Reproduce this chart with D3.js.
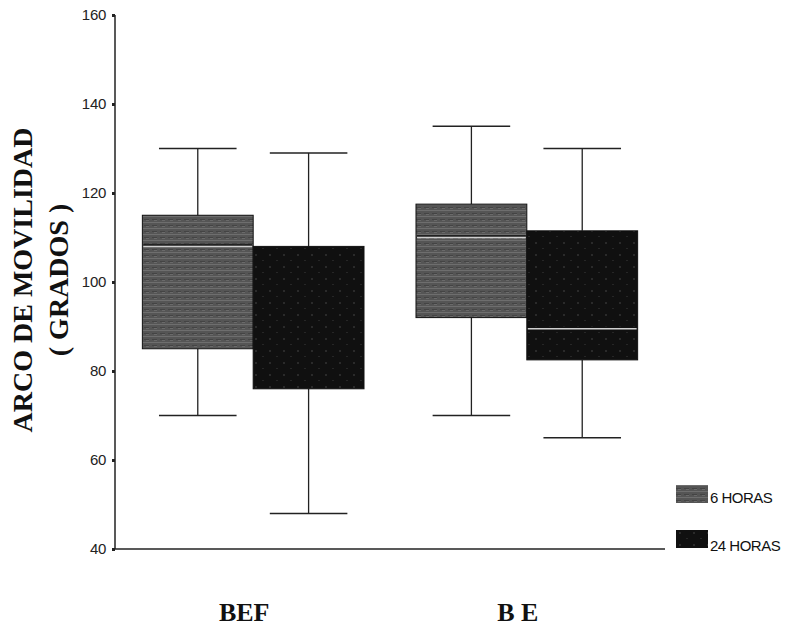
<!DOCTYPE html>
<html>
<head>
<meta charset="utf-8">
<script src="https://cdn.jsdelivr.net/npm/d3@7"></script>
<style>
  html, body { margin: 0; padding: 0; background: #fff; }
  svg { display: block; }
</style>
</head>
<body>
<svg id="chart" width="795" height="627"></svg>
<script>
// ---- data ----
const categories = ["BEF", "BE"];
const categoryLabels = ["BEF", "B E"];
const seriesNames = ["6 HORAS", "24 HORAS"];
// per category, per series: [min, q1, median, q3, max]
const bef6h  = [70, 85, 108, 115, 130];
const bef24h = [48, 76, 108, 108, 129];
const be6h   = [70, 92, 110, 117.5, 135];
const be24h  = [65, 82.5, 89.5, 111.5, 130];
const yTicks = [40, 60, 80, 100, 120, 140, 160];

const boxes = [
  { cat: "BEF", series: "6 HORAS", v: bef6h },
  { cat: "BEF", series: "24 HORAS", v: bef24h },
  { cat: "BE", series: "6 HORAS", v: be6h },
  { cat: "BE", series: "24 HORAS", v: be24h }
];

const svg = d3.select("#chart");
const defs = svg.append("defs");

// texture patterns
const p6 = defs.append("pattern").attr("id", "tex6").attr("patternUnits", "userSpaceOnUse")
  .attr("width", 8).attr("height", 6);
p6.append("rect").attr("width", 8).attr("height", 6).attr("fill", "#555");
p6.append("rect").attr("y", 0).attr("width", 8).attr("height", 1).attr("fill", "#6e6e6e");
p6.append("rect").attr("y", 3).attr("width", 5).attr("height", 1).attr("fill", "#444");
p6.append("rect").attr("x", 2).attr("y", 4).attr("width", 3).attr("height", 1).attr("fill", "#6a6a6a");

const p24 = defs.append("pattern").attr("id", "tex24").attr("patternUnits", "userSpaceOnUse")
  .attr("width", 14).attr("height", 12);
p24.append("rect").attr("width", 14).attr("height", 12).attr("fill", "#101010");
p24.append("rect").attr("x", 3).attr("y", 2).attr("width", 2).attr("height", 2).attr("fill", "#2a2a2a");
p24.append("rect").attr("x", 10).attr("y", 8).attr("width", 2).attr("height", 1).attr("fill", "#262626");

const fills = { "6 HORAS": "url(#tex6)", "24 HORAS": "url(#tex24)" };

// scales
const y = d3.scaleLinear().domain([40, 160]).range([549, 15]);
const x = d3.scaleBand().domain(categories).range([115, 665]).paddingInner(0.19).paddingOuter(0.1);
const xs = d3.scaleBand().domain(seriesNames).range([0, x.bandwidth()]);

// y axis
const yAxis = d3.axisLeft(y).tickValues(yTicks).tickSize(3).tickPadding(6).tickFormat(d3.format("d"));
const gy = svg.append("g").attr("transform", "translate(115,0)").call(yAxis);
gy.select(".domain").attr("stroke", "#222").attr("stroke-width", 1.5).attr("d", `M0,${y(160)}V${y(40)}`);
gy.selectAll(".tick line").attr("stroke", "#222").attr("stroke-width", 3);
gy.selectAll(".tick text").attr("font-family", "Liberation Sans, Arial, sans-serif")
  .attr("font-size", 15).attr("fill", "#222").attr("letter-spacing", "-0.3px");

// x axis line
svg.append("line").attr("x1", 115).attr("x2", 665).attr("y1", y(40)).attr("y2", y(40))
  .attr("stroke", "#222").attr("stroke-width", 1.5);

// boxes
const bw = xs.bandwidth();
const capW = bw * 0.7;
const g = svg.append("g");
boxes.forEach(b => {
  const x0 = x(b.cat) + xs(b.series);
  const cx = x0 + bw / 2;
  const [mn, q1, md, q3, mx] = b.v;
  const gg = g.append("g");
  // whiskers
  gg.append("line").attr("x1", cx).attr("x2", cx).attr("y1", y(mx)).attr("y2", y(q3))
    .attr("stroke", "#222").attr("stroke-width", 1.3);
  gg.append("line").attr("x1", cx).attr("x2", cx).attr("y1", y(q1)).attr("y2", y(mn))
    .attr("stroke", "#222").attr("stroke-width", 1.3);
  gg.append("line").attr("x1", cx - capW / 2).attr("x2", cx + capW / 2).attr("y1", y(mx)).attr("y2", y(mx))
    .attr("stroke", "#222").attr("stroke-width", 1.5);
  gg.append("line").attr("x1", cx - capW / 2).attr("x2", cx + capW / 2).attr("y1", y(mn)).attr("y2", y(mn))
    .attr("stroke", "#222").attr("stroke-width", 1.5);
  // box
  gg.append("rect").attr("x", x0).attr("y", y(q3)).attr("width", bw).attr("height", y(q1) - y(q3))
    .attr("fill", fills[b.series]).attr("stroke", "#111").attr("stroke-width", 1);
  // median (visible only inside the box)
  if (md > q1 && md < q3) {
    gg.append("line").attr("x1", x0 + 1).attr("x2", x0 + bw - 1).attr("y1", y(md) - 1.5).attr("y2", y(md) - 1.5)
      .attr("stroke", "#111").attr("stroke-width", 1.5);
    gg.append("line").attr("x1", x0 + 1).attr("x2", x0 + bw - 1).attr("y1", y(md)).attr("y2", y(md))
      .attr("stroke", "#cfcfcf").attr("stroke-width", 1.5);
  }
});

// category labels
svg.append("g").selectAll("text").data(categories).join("text")
  .attr("x", d => x(d) + x.bandwidth() / 2 - 9)
  .attr("y", 621)
  .attr("text-anchor", "middle")
  .attr("font-family", "Liberation Serif, Times New Roman, serif")
  .attr("font-weight", "bold")
  .attr("font-size", 26)
  .attr("fill", "#111")
  .text((d, i) => categoryLabels[i]);

// y axis title
svg.append("text")
  .attr("transform", "translate(32,280) rotate(-90)")
  .attr("text-anchor", "middle")
  .attr("font-family", "Liberation Serif, Times New Roman, serif")
  .attr("font-weight", "bold").attr("font-size", 28).attr("fill", "#111")
  .text("ARCO DE MOVILIDAD");
svg.append("text")
  .attr("transform", "translate(68,280) rotate(-90)")
  .attr("text-anchor", "middle")
  .attr("font-family", "Liberation Serif, Times New Roman, serif")
  .attr("font-weight", "bold").attr("font-size", 28).attr("fill", "#111")
  .text("( GRADOS )");

// legend
const legendTextY = [503, 551];
const legend = svg.append("g").selectAll("g").data(seriesNames).join("g")
  .attr("transform", (d, i) => `translate(676,${485 + i * 45})`);
legend.append("rect").attr("width", 32).attr("height", 18).attr("fill", d => fills[d]);
legend.append("text").attr("x", 34).attr("y", (d, i) => legendTextY[i] - (485 + i * 45))
  .attr("font-family", "Liberation Sans, Arial, sans-serif").attr("font-size", 15)
  .attr("fill", "#111").attr("letter-spacing", "-0.5px")
  .text(d => d);
</script>
</body>
</html>
